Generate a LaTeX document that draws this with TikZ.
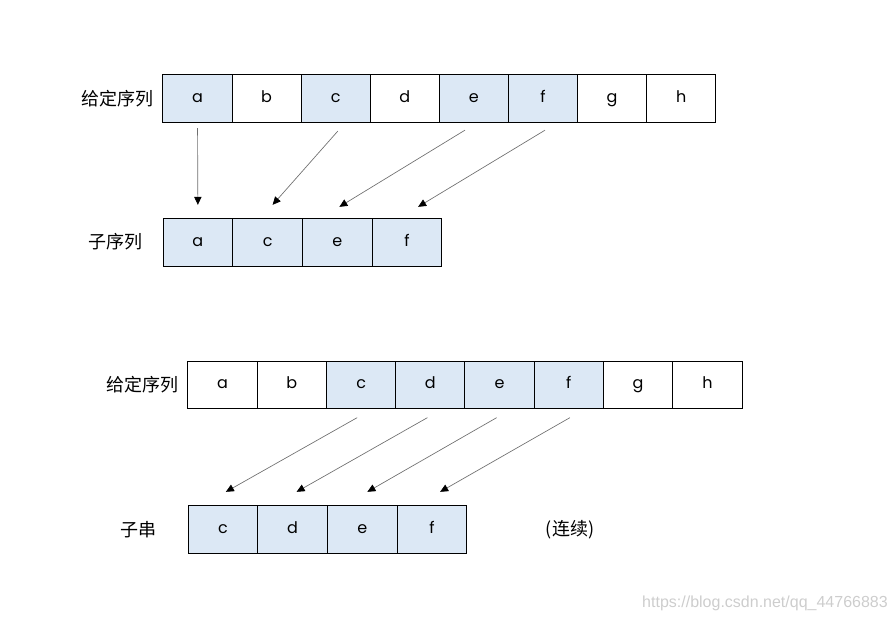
\documentclass[tikz,border=0pt]{standalone}
\usepackage{fontspec}
\setmainfont{Poppins}
\newfontfamily\cjk{Noto Sans CJK SC}
\newfontfamily\wmfont{Liberation Sans}
\usetikzlibrary{arrows.meta}
\definecolor{seqblue}{RGB}{220,232,245}
\definecolor{linkgray}{RGB}{110,110,110}
\definecolor{wmgray}{RGB}{205,205,205}
\begin{document}
\begin{tikzpicture}[x=0.75pt, y=-0.75pt,
    cell/.style={draw, line width=0.7pt, minimum width=52pt, minimum height=35.5pt, inner sep=0pt, outer sep=0pt,
      text height=1ex, text depth=0pt, font=\fontsize{12}{14}\selectfont},
    hl/.style={cell, fill=seqblue},
    lbl/.style={font=\cjk\fontsize{13.5}{15}\selectfont},
    link/.style={draw=linkgray, line width=0.5pt, -{Triangle[color=black, length=6pt, width=5.5pt]}}]
  \useasboundingbox (0,0) rectangle (896,621);

  % given sequence / subsequence
  \node[lbl] (lab1) at (117,99) {给定序列};
  \foreach \c/\s [count=\i] in {a/hl,b/cell,c/hl,d/cell,e/hl,f/hl,g/cell,h/cell}
    \node[\s] (p\c) at ({163+69.1*(\i-0.5)},98.5) {\c};
  \node[lbl] (lab2) at (115,242) {子序列};
  \foreach \c [count=\i] in {a,c,e,f}
    \node[hl] (q\c) at ({163+69.75*(\i-0.5)},242.5) {\c};

  \draw[link] ([shift={(0,6)}]pa.south) -- ([shift={(0,-14)}]qa.north);
  \draw[link] ([shift={(2,9)}]pc.south) -- ([shift={(5,-14)}]qc.north);
  \draw[link] ([shift={(-9,8)}]pe.south) -- ([shift={(2,-12)}]qe.north);
  \draw[link] ([shift={(2,8)}]pf.south) -- ([shift={(11,-12)}]qf.north);

  % given sequence / substring
  \node[lbl] (lab3) at (142,385) {给定序列};
  \foreach \c/\s [count=\i] in {a/cell,b/cell,c/hl,d/hl,e/hl,f/hl,g/cell,h/cell}
    \node[\s] (r\c) at ({188+69.25*(\i-0.5)},385) {\c};
  \node[lbl] (lab4) at (138,530) {子串};
  \foreach \c [count=\i] in {c,d,e,f}
    \node[hl] (s\c) at ({188+69.75*(\i-0.5)},529.5) {\c};
  \node[lbl] (lab5) at (570,530) {(连续)};

  \draw[link] ([shift={(-4,9)}]rc.south) -- ([shift={(3,-14)}]sc.north);
  \draw[link] ([shift={(-3,9)}]rd.south) -- ([shift={(4,-14)}]sd.north);
  \draw[link] ([shift={(-3,9)}]re.south) -- ([shift={(5,-14)}]se.north);
  \draw[link] ([shift={(1,9)}]rf.south) -- ([shift={(8,-14)}]sf.north);

  \node[font=\wmfont\fontsize{12}{14}\selectfont, text=wmgray] (wm) at (765,603) {https://blog.csdn.net/qq\_44766883};
\end{tikzpicture}
\end{document}
